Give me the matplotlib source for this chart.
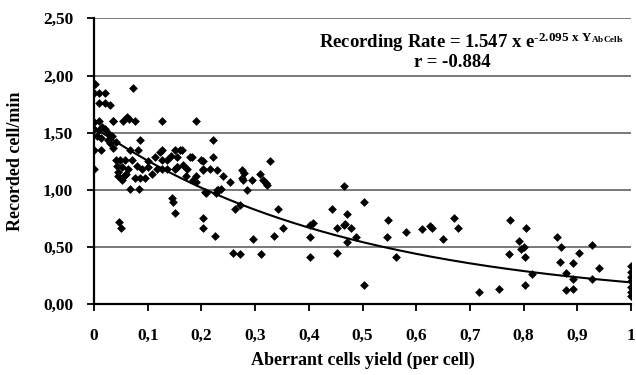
import numpy as np
import matplotlib
matplotlib.use("Agg")
import matplotlib.pyplot as plt
import matplotlib.ticker as ticker

# ── Data ──────────────────────────────────────────────────────────────────────
yield_ab = [
    0.002, 0.0, 0.01, 0.02, 0.01, 0.02, 0.03, 0.035, 0.0, 0.01, 0.035, 0.0, 0.01, 0.02,
    0.026, 0.0, 0.013, 0.0, 0.005, 0.012, 0.026, 0.03, 0.036, 0.054, 0.061, 0.065, 0.076,
    0.073, 0.04, 0.048, 0.058, 0.07, 0.043, 0.045, 0.052, 0.058, 0.063, 0.067, 0.082,
    0.086, 0.08, 0.09, 0.086, 0.076, 0.095, 0.067, 0.084, 0.045, 0.052, 0.047, 0.05,
    0.145, 0.147, 0.151, 0.114, 0.127, 0.127, 0.136, 0.151, 0.16, 0.154, 0.154, 0.179,
    0.2, 0.222, 0.222, 0.203, 0.216, 0.229, 0.207, 0.127, 0.117, 0.136, 0.151, 0.173,
    0.184, 0.127, 0.19, 0.164, 0.182, 0.203, 0.203, 0.229, 0.24, 0.253, 0.19, 0.209,
    0.227, 0.231, 0.236, 0.203, 0.203, 0.225, 0.263, 0.272, 0.276, 0.279, 0.276, 0.277,
    0.294, 0.285, 0.309, 0.315, 0.32, 0.322, 0.328, 0.259, 0.272, 0.311, 0.296, 0.335,
    0.343, 0.352, 0.402, 0.408, 0.402, 0.402, 0.443, 0.452, 0.452, 0.465, 0.471, 0.465,
    0.467, 0.478, 0.471, 0.488, 0.503, 0.503, 0.547, 0.545, 0.562, 0.581, 0.61, 0.626,
    0.629, 0.65, 0.67, 0.678, 0.717, 0.754, 0.775, 0.791, 0.795, 0.8, 0.773, 0.804,
    0.803, 0.803, 0.815, 0.862, 0.87, 0.868, 0.892, 0.903, 0.88, 0.892, 0.88, 0.892,
    0.927, 0.94, 0.927, 1.0, 1.0, 1.0, 1.0, 1.0, 1.0, 1.0, 0.1, 0.108, 0.033, 0.04,
    0.015, 0.06, 0.1, 0.123, 0.166, 0.171, 0.19, 0.143, 0.155,
]
rec_rate = [
    1.93, 1.85, 1.85, 1.85, 1.76, 1.76, 1.74, 1.6, 1.59, 1.6, 1.6, 1.53, 1.52, 1.53,
    1.5, 1.35, 1.35, 1.18, 1.47, 1.45, 1.44, 1.41, 1.37, 1.6, 1.64, 1.62, 1.6,
    1.89, 1.26, 1.26, 1.26, 1.26, 1.21, 1.12, 1.09, 1.13, 1.18, 1.35, 1.35,
    1.44, 1.21, 1.18, 1.1, 1.1, 1.1, 1.01, 1.01, 1.16, 1.2, 0.72, 0.67,
    0.93, 0.89, 0.8, 1.29, 1.35, 1.26, 1.26, 1.35, 1.35, 1.29, 1.2, 1.29,
    1.26, 1.44, 1.29, 1.18, 1.18, 1.0, 0.98, 1.18, 1.18, 1.18, 1.18, 1.18,
    1.09, 1.6, 1.6, 1.35, 1.29, 1.25, 1.17, 1.17, 1.12, 1.07, 1.07, 0.97,
    0.97, 1.0, 1.01, 0.75, 0.67, 0.6, 0.83, 0.87, 1.17, 1.15, 1.1, 1.09,
    1.09, 1.0, 1.14, 1.09, 1.06, 1.04, 1.25, 0.45, 0.44, 0.44, 0.57, 0.6,
    0.83, 0.67, 0.69, 0.71, 0.59, 0.41, 0.83, 0.67, 0.45, 1.03, 0.79, 0.69,
    0.7, 0.67, 0.54, 0.59, 0.89, 0.17, 0.74, 0.59, 0.41, 0.63, 0.66, 0.68,
    0.67, 0.57, 0.75, 0.67, 0.11, 0.13, 0.74, 0.55, 0.48, 0.5, 0.44, 0.67,
    0.41, 0.17, 0.26, 0.59, 0.5, 0.37, 0.36, 0.45, 0.27, 0.22, 0.12, 0.13,
    0.52, 0.32, 0.22, 0.33, 0.28, 0.24, 0.2, 0.15, 0.11, 0.07, 1.2, 1.14, 1.47, 1.42,
    1.55, 1.14, 1.25, 1.33, 1.22, 1.12, 1.12, 1.3, 1.2,
]

A, B, R = 1.547, -2.095, -0.884

# ── Style ─────────────────────────────────────────────────────────────────────
plt.rcParams.update({
    "font.family": "Liberation Serif",
    "font.weight": "bold",
    "mathtext.fontset": "custom",
    "mathtext.rm": "Liberation Serif:bold",
    "mathtext.it": "Liberation Serif:bold",
    "mathtext.bf": "Liberation Serif:bold",
})

fig = plt.figure(figsize=(6.36, 3.75), dpi=100)
ax = fig.add_axes([0.148, 0.189, 0.844, 0.762])

ax.scatter(yield_ab, rec_rate, marker="D", s=20, color="black", linewidths=0, zorder=3)

xs = np.linspace(0, 1, 200)
ax.plot(xs, A * np.exp(B * xs), color="black", lw=1.5, zorder=4)

ax.set_xlim(0, 1)
ax.set_ylim(0, 2.5)
ax.set_xticks(np.arange(0, 1.01, 0.1))
ax.set_yticks(np.arange(0, 2.51, 0.5))
ax.xaxis.set_major_formatter(ticker.FuncFormatter(
    lambda v, p: "0" if abs(v) < 1e-9 else ("1" if abs(v - 1) < 1e-9 else f"{v:.1f}".replace(".", ","))))
ax.yaxis.set_major_formatter(ticker.FuncFormatter(lambda v, p: f"{v:.2f}".replace(".", ",")))
ax.tick_params(direction="out", length=5, width=1.3, labelsize=12.5, pad=10)
ax.tick_params(axis="x", pad=12)

ax.grid(axis="y", color="#6e6e6e", lw=1.3, zorder=0)
for s in ["right", "top"]:
    ax.spines[s].set_visible(False)
for s in ["left", "bottom"]:
    ax.spines[s].set_linewidth(1.6)

ax.set_xlabel("Aberrant cells yield (per cell)", fontsize=13, fontweight="bold", labelpad=6)
ax.set_ylabel("Recorded cell/min", fontsize=13, fontweight="bold", labelpad=14)

# equation: hyphen-minus kept as in the original, so build exponent from plain text pieces
ax.text(0.988, 0.915,
        r"Recording Rate = 1.547 x e$^{\mathregular{\text{-}2.095\ x\ Y}_{\mathregular{AbCells}}}$",
        transform=ax.transAxes, ha="right", va="center", fontsize=13.5, fontweight="bold")
ax.text(0.667, 0.845, f"r = {R}", transform=ax.transAxes, ha="center", va="center",
        fontsize=13.5, fontweight="bold")

fig.savefig("out.png", dpi=100)
